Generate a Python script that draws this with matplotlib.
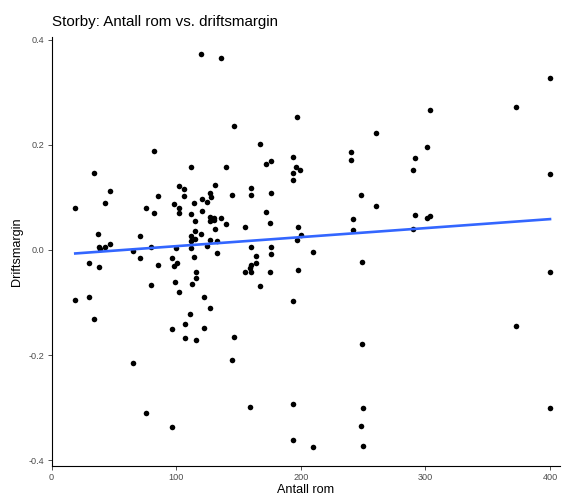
import numpy as np
import matplotlib.pyplot as plt

plt.rcParams['font.family'] = ['Liberation Sans', 'DejaVu Sans']

# Antall rom (x) og driftsmargin (y)
rooms = [
    82, 34, 47, 85, 43, 19, 76, 82, 98, 102, 102, 102, 37, 71, 38, 43, 47, 80, 100, 39,
    65, 71, 30, 38, 85, 97, 101, 98, 80, 99, 102, 19, 30, 34, 97, 65, 76, 97,
    120, 136, 146, 197, 167, 194, 176, 172, 196, 199, 194, 194, 112, 140, 106, 106,
    131, 127, 128, 145, 160, 160, 176, 114, 121, 125, 112, 121, 127, 130, 136, 127,
    130, 115, 140, 155, 172, 175, 131, 115, 112, 120, 112, 115, 127, 133, 125, 112,
    160, 176, 197, 198, 200,
    114, 133, 116, 116, 113, 122, 127, 111, 107, 122, 107, 116, 146, 145, 159, 194,
    194, 164, 160, 164, 159, 155, 160, 176, 175, 167, 198, 194,
    400, 373, 304, 260, 301, 240, 240, 292, 290, 400, 248, 260, 292, 301, 304, 242,
    242, 290,
    210, 249, 400, 373, 249, 250, 400, 248, 210, 250,
]
margin = [
    0.189, 0.146, 0.112, 0.103, 0.089, 0.079, 0.080, 0.071, 0.088, 0.121, 0.079, 0.070,
    0.030, 0.027, 0.006, 0.006, 0.011, 0.006, 0.003, 0.001,
    -0.002, -0.015, -0.024, -0.033, -0.029, -0.016, -0.024, -0.030, -0.067, -0.060,
    -0.080, -0.095, -0.089, -0.132, -0.151, -0.215, -0.310, -0.336,
    0.373, 0.365, 0.236, 0.252, 0.201, 0.177, 0.170, 0.163, 0.158, 0.152, 0.147, 0.133,
    0.157, 0.158, 0.115, 0.103, 0.123, 0.109, 0.101, 0.105, 0.118, 0.105, 0.109,
    0.090, 0.096, 0.091, 0.069, 0.074, 0.063, 0.061, 0.061, 0.055, 0.057, 0.055,
    0.050, 0.044, 0.073, 0.051, 0.039, 0.037, 0.027, 0.030, 0.018, 0.021, 0.019,
    0.018, 0.008, 0.003, 0.006, 0.006, 0.019, 0.044, 0.029,
    -0.013, -0.005, -0.042, -0.053, -0.065, -0.090, -0.110, -0.122, -0.141, -0.149,
    -0.167, -0.171, -0.165, -0.210, -0.298, -0.292, -0.361, -0.011, -0.029, -0.025,
    -0.035, -0.041, -0.042, -0.008, -0.042, -0.068, -0.039, -0.097,
    0.327, 0.271, 0.267, 0.223, 0.196, 0.186, 0.171, 0.175, 0.152, 0.144, 0.105,
    0.084, 0.067, 0.061, 0.064, 0.059, 0.038, 0.039,
    -0.004, -0.023, -0.042, -0.144, -0.179, -0.301, -0.301, -0.335, -0.374, -0.373,
]

x_ticks = [0, 100, 200, 300, 400]
y_ticks = [-0.4, -0.2, 0.0, 0.2, 0.4]
y_tick_labels = ['-0.4', '-0.2', '0.0', '0.2', '0.4']

x = np.array(rooms, dtype=float)
y = np.array(margin)

fig = plt.figure(figsize=(5.62, 4.96), dpi=100)
ax = fig.add_axes([0.0918, 0.0612, 0.9046, 0.8643])

ax.scatter(x, y, s=16, color='black', linewidths=0, zorder=3)

# lineær trendlinje (som geom_smooth(method = "lm"))
slope, intercept = np.polyfit(x, y, 1)
xs = np.array([x.min(), x.max()])
ax.plot(xs, intercept + slope * xs, color='#3366FF', linewidth=1.9, zorder=4)

ax.set_xlim(0, 408)
ax.set_ylim(-0.41, 0.405)
ax.set_xticks(x_ticks)
ax.set_yticks(y_ticks)
ax.set_yticklabels(y_tick_labels)

for side in ['top', 'right']:
    ax.spines[side].set_visible(False)
for side in ['left', 'bottom']:
    ax.spines[side].set_linewidth(0.8)
    ax.spines[side].set_color('black')

ax.tick_params(axis='both', length=3, width=0.6, color='#333333',
               labelsize=6.6, labelcolor='#4D4D4D', pad=2)

ax.set_xlabel('Antall rom', fontsize=9.1, color='black', labelpad=2)
ax.set_ylabel('Driftsmargin', fontsize=9.1, color='black', labelpad=4)
fig.text(0.0918, 1 - 26 / 496, 'Storby: Antall rom vs. driftsmargin', fontsize=10.9,
         color='black', ha='left', va='baseline')

fig.savefig('out.png', dpi=100)
